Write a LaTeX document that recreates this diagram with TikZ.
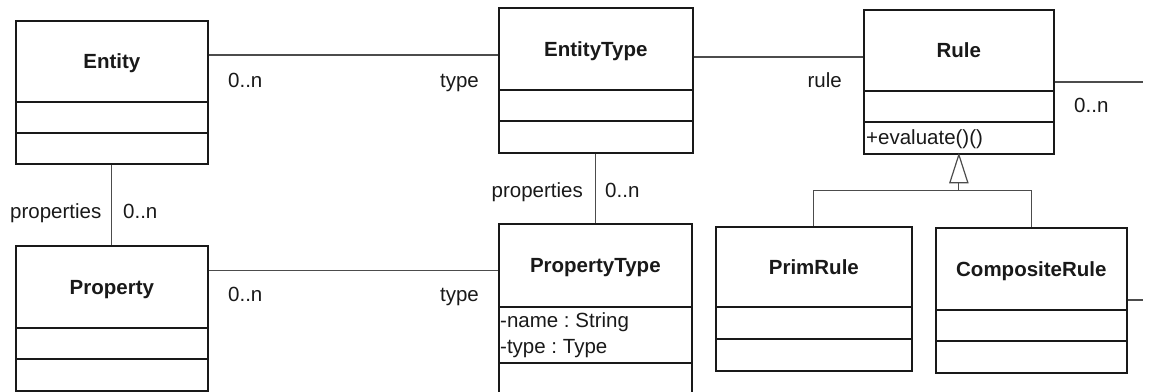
\documentclass[tikz,border=0pt]{standalone}
\usepackage{fontspec}
\setmainfont{Liberation Sans}
\usetikzlibrary{calc}

\tikzset{
  classbox/.style={draw=black!90, line width=1.7pt, anchor=north west, inner sep=0pt},
  divider/.style={draw=black!90, line width=1.7pt},
  classname/.style={font=\bfseries\fontsize{20.5}{24}\selectfont, text=black!90, inner sep=0pt},
  member/.style={font=\fontsize{20.5}{24}\selectfont\frenchspacing, text=black!90, inner sep=0pt, anchor=base west},
  lbl/.style={font=\fontsize{20.5}{24}\selectfont, text=black!90, inner sep=0pt},
  assoc/.style={draw=black!70, line width=1.2pt},
}

% #1 name, #2 x, #3 y (top left), #4 width, #5 height,
% #6 and #7 divider offsets from the top, #8 class name
\newcommand{\umlbox}[8]{%
  \node[classbox, minimum width=#4pt, minimum height=#5pt] (#1) at (#2,#3) {};
  \draw[divider] ([yshift=-#6pt]#1.north west) -- ([yshift=-#6pt]#1.north east);
  \draw[divider] ([yshift=-#7pt]#1.north west) -- ([yshift=-#7pt]#1.north east);
  \pgfmathsetlengthmacro\umlTitleDrop{-(#6/2+7.5)*1pt}%
  \node[classname, anchor=base] (#1-name) at ([yshift=\umlTitleDrop]#1.north) {#8};
}

\begin{document}
\frenchspacing
\begin{tikzpicture}[x=1pt, y=-1pt]
  \useasboundingbox (0,0) rectangle (1151,391);

  % classes
  \umlbox{ent}{15}{20}{192}{143}{82}{113}{Entity}
  \umlbox{et}{498}{7}{194}{145}{83}{114}{EntityType}
  \umlbox{rule}{863}{9}{190}{144}{82}{113}{Rule}
  \umlbox{prop}{15}{245}{192}{145}{83}{114}{Property}
  \umlbox{pt}{498}{223}{193}{185}{84}{140}{PropertyType}
  \umlbox{prim}{715}{226}{196}{144}{81}{113}{PrimRule}
  \umlbox{comp}{935}{227}{191}{145}{83}{114}{CompositeRule}

  % members
  \node[member] (rule-op) at ([xshift=3pt, yshift=-135pt]rule.north west) {+evaluate()()};
  \node[member] (pt-a1) at ([xshift=2pt, yshift=-104pt]pt.north west) {-name : String};
  \node[member] (pt-a2) at ([xshift=2pt, yshift=-130pt]pt.north west) {-type : Type};

  % associations
  \draw[assoc] ([yshift=-35pt]ent.north east) coordinate (a1) -- (a1 -| et.west);
  \draw[assoc] ([yshift=-50pt]et.north east) coordinate (a2) -- (a2 -| rule.west);
  \coordinate (ruleEnd) at (1143,82);
  \draw[assoc] ([yshift=-73pt]rule.north east) coordinate (a3) -- (a3 -| ruleEnd);
  \draw[assoc] (ent.south) -- (prop.north);
  \draw[assoc] (et.south) -- (et.south |- pt.north);
  \draw[assoc] ([yshift=-25.5pt]prop.north east) coordinate (a4) -- (a4 -| pt.west);
  \coordinate (compEnd) at (1143,300);
  \draw[assoc] ([yshift=-73pt]comp.north east) coordinate (a5) -- (a5 -| compEnd);

  % generalisation
  \coordinate (gtri) at ([yshift=-28pt]rule.south);
  \coordinate (gbar) at ([yshift=-36pt]rule.south);
  \draw[assoc] (gtri) -- (gbar);
  \draw[assoc] (prim.north) |- (gbar) -| (comp.north);
  \draw[assoc, fill=white] (rule.south) -- ++(-9,28) -- ++(18,0) -- cycle;

  % role names and multiplicities
  \node[lbl, anchor=base west] (m1) at (228,87) {0..n};
  \node[lbl, anchor=base east] (r1) at (479,87) {type};
  \node[lbl, anchor=base east] (r2) at (842,87) {rule};
  \node[lbl, anchor=base west] (m2) at (1074,112) {0..n};
  \node[lbl, anchor=base west] (r3) at (10,218) {properties};
  \node[lbl, anchor=base west] (m3) at (123,218) {0..n};
  \node[lbl, anchor=base east] (r4) at (583,197) {properties};
  \node[lbl, anchor=base west] (m4) at (605,197) {0..n};
  \node[lbl, anchor=base west] (m5) at (228,301) {0..n};
  \node[lbl, anchor=base east] (r5) at (479,301) {type};
\end{tikzpicture}
\end{document}
